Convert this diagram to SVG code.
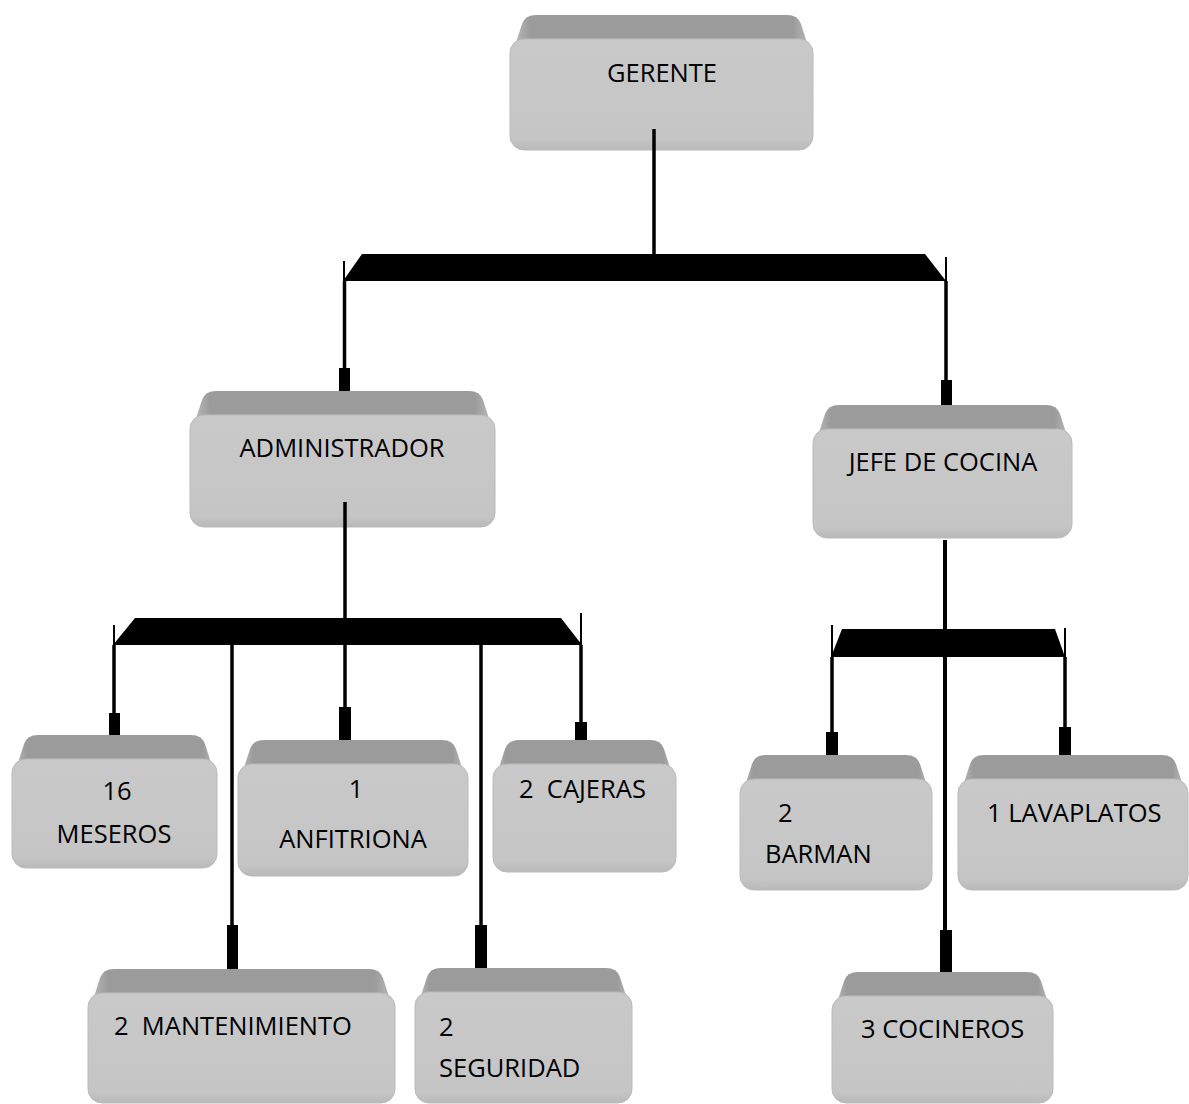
<svg xmlns="http://www.w3.org/2000/svg" width="1189" height="1104" viewBox="0 0 1189 1104">
<defs>
<linearGradient id="topg" x1="0" y1="0" x2="1" y2="0">
<stop offset="0" stop-color="#bdbdbd"/>
<stop offset="0.06" stop-color="#9b9b9b"/>
<stop offset="0.94" stop-color="#9b9b9b"/>
<stop offset="1" stop-color="#bdbdbd"/>
</linearGradient>
<linearGradient id="frontg" x1="0" y1="0" x2="0" y2="1">
<stop offset="0" stop-color="#c9c9c9"/>
<stop offset="0.9" stop-color="#c5c5c5"/>
<stop offset="1" stop-color="#b9b9b9"/>
</linearGradient>
</defs>
<style>
.top{fill:url(#topg)}
.front{fill:url(#frontg);stroke:#bababa;stroke-width:1}
.t{font-family:"Open Sans","Liberation Sans",sans-serif;font-size:25.5px;fill:#000}
.c{text-anchor:middle}
.pre{white-space:pre}
.ln{stroke:#000;fill:none}
.thin{stroke-width:2}
.mid{stroke-width:3.5}
.bar{fill:#000}
</style>
<rect width="1189" height="1104" fill="#fff"/>

<g id="gerente">
<path class="top" d="M512,55 L522,24 Q525,15 536,15 H787 Q798,15 801,24 L811,55 Z"/>
<rect class="front" x="510" y="39" width="303" height="111" rx="14"/>
<text class="t c" x="662" y="82">GERENTE</text>
</g>
<g id="administrador">
<path class="top" d="M192,431 L202,400 Q205,391 216,391 H469 Q480,391 483,400 L493,431 Z"/>
<rect class="front" x="190" y="415" width="305" height="112" rx="14"/>
<text class="t c" x="342" y="457">ADMINISTRADOR</text>
</g>
<g id="jefe">
<path class="top" d="M815,445 L825,414 Q828,405 839,405 H1046 Q1057,405 1060,414 L1070,445 Z"/>
<rect class="front" x="813" y="429" width="259" height="109" rx="14"/>
<text class="t c" x="943" y="471">JEFE DE COCINA</text>
</g>
<g id="meseros">
<path class="top" d="M14,775 L24,744 Q27,735 38,735 H191 Q202,735 205,744 L215,775 Z"/>
<rect class="front" x="12" y="759" width="205" height="109" rx="14"/>
<text class="t c" x="117" y="800">16</text>
<text class="t c" x="114" y="843">MESEROS</text>
</g>
<g id="anfitriona">
<path class="top" d="M240,780 L250,749 Q253,740 264,740 H442 Q453,740 456,749 L466,780 Z"/>
<rect class="front" x="238" y="764" width="230" height="112" rx="14"/>
<text class="t c" x="356" y="798">1</text>
<text class="t c" x="353" y="848">ANFITRIONA</text>
</g>
<g id="cajeras">
<path class="top" d="M495,780 L505,749 Q508,740 519,740 H650 Q661,740 664,749 L674,780 Z"/>
<rect class="front" x="493" y="764" width="183" height="108" rx="14"/>
<text class="t pre" x="519" y="798" xml:space="preserve">2  CAJERAS</text>
</g>
<g id="mantenimiento">
<path class="top" d="M90,1009 L100,978 Q103,969 114,969 H369 Q380,969 383,978 L393,1009 Z"/>
<rect class="front" x="88" y="993" width="307" height="110" rx="14"/>
<text class="t pre" x="114" y="1035" xml:space="preserve">2  MANTENIMIENTO</text>
</g>
<g id="seguridad">
<path class="top" d="M417,1008 L427,977 Q430,968 441,968 H606 Q617,968 620,977 L630,1008 Z"/>
<rect class="front" x="415" y="992" width="217" height="111" rx="14"/>
<text class="t" x="439" y="1036">2</text>
<text class="t" x="439" y="1077">SEGURIDAD</text>
</g>
<g id="barman">
<path class="top" d="M742,795 L752,764 Q755,755 766,755 H906 Q917,755 920,764 L930,795 Z"/>
<rect class="front" x="740" y="779" width="192" height="111" rx="14"/>
<text class="t" x="778" y="822">2</text>
<text class="t" x="765" y="863">BARMAN</text>
</g>
<g id="lavaplatos">
<path class="top" d="M960,795 L970,764 Q973,755 984,755 H1162 Q1173,755 1176,764 L1186,795 Z"/>
<rect class="front" x="958" y="779" width="230" height="111" rx="14"/>
<text class="t" x="987" y="822">1 LAVAPLATOS</text>
</g>
<g id="cocineros">
<path class="top" d="M834,1012 L844,981 Q847,972 858,972 H1027 Q1038,972 1041,981 L1051,1012 Z"/>
<rect class="front" x="832" y="996" width="221" height="107" rx="14"/>
<text class="t" x="861" y="1038">3 COCINEROS</text>
</g>

<g id="connectors">
<line class="ln mid" x1="654" y1="129" x2="654" y2="255"/>
<polygon class="bar" points="362,254 925,254 946,281 343,281"/>
<line class="ln thin" x1="344" y1="261" x2="344" y2="281"/>
<line class="ln thin" x1="946" y1="257" x2="946" y2="281"/>
<line class="ln mid" x1="344.5" y1="281" x2="344.5" y2="370"/>
<rect class="bar" x="339" y="368" width="11" height="23"/>
<line class="ln mid" x1="946" y1="281" x2="946" y2="382"/>
<rect class="bar" x="941" y="380" width="11" height="25"/>

<line class="ln mid" x1="345" y1="502" x2="345" y2="619"/>
<polygon class="bar" points="135,618 561,618 582,645 113,645"/>
<line class="ln thin" x1="114" y1="625" x2="114" y2="645"/>
<line class="ln thin" x1="581" y1="613" x2="581" y2="645"/>
<line class="ln mid" x1="114" y1="645" x2="114" y2="715"/>
<rect class="bar" x="109" y="713" width="11" height="22"/>
<line class="ln mid" x1="232" y1="645" x2="232" y2="928"/>
<rect class="bar" x="227" y="925" width="11" height="44"/>
<line class="ln mid" x1="345" y1="645" x2="345" y2="709"/>
<rect class="bar" x="339" y="707" width="12" height="33"/>
<line class="ln mid" x1="481" y1="645" x2="481" y2="928"/>
<rect class="bar" x="475" y="925" width="12" height="43"/>
<line class="ln mid" x1="581" y1="645" x2="581" y2="724"/>
<rect class="bar" x="575" y="722" width="12" height="18"/>

<line class="ln" stroke-width="4" x1="945" y1="540" x2="945" y2="932"/>
<rect class="bar" x="940" y="930" width="12" height="42"/>
<polygon class="bar" points="842,629 1055,629 1065,657 831,657"/>
<line class="ln thin" x1="832" y1="625" x2="832" y2="657"/>
<line class="ln thin" x1="1065" y1="628" x2="1065" y2="657"/>
<line class="ln mid" x1="832" y1="657" x2="832" y2="734"/>
<rect class="bar" x="826" y="732" width="12" height="23"/>
<line class="ln mid" x1="1065" y1="657" x2="1065" y2="729"/>
<rect class="bar" x="1059" y="727" width="12" height="28"/>
</g>
</svg>
